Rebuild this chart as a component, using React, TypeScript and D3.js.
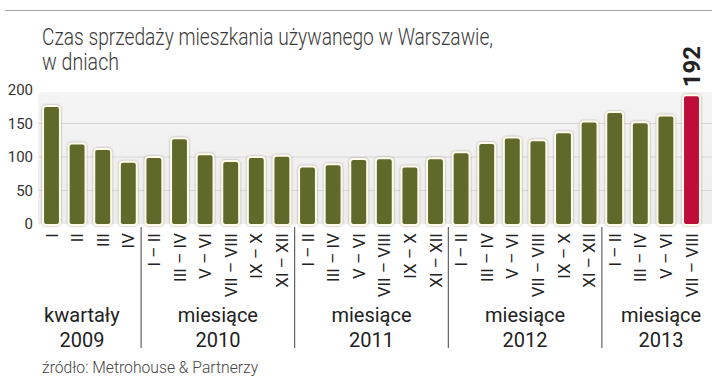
import React from "react";
import * as d3 from "d3";

const labels = [
  "I", "II", "III", "IV",
  "I – II", "III – IV", "V – VI", "VII – VIII", "IX – X", "XI – XII",
  "I – II", "III – IV", "V – VI", "VII – VIII", "IX – X", "XI – XII",
  "I – II", "III – IV", "V – VI", "VII – VIII", "IX – X", "XI – XII",
  "I – II", "III – IV", "V – VI", "VII – VIII",
];
const values = [
  176, 120, 112, 93,
  100, 128, 104, 94, 100, 102,
  86, 89, 97, 98, 86, 98,
  107, 121, 129, 125, 137, 153,
  167, 152, 162, 192,
];
const groupTop = ["kwartały", "miesiące", "miesiące", "miesiące", "miesiące"];
const groupYears = ["2009", "2010", "2011", "2012", "2013"];
const groupSizes = [4, 6, 6, 6, 4];
const yTicks = [0, 50, 100, 150, 200];
const highlightIndex = 25;

const W = 712;
const H = 383;
const FONT = "Roboto, 'Open Sans', sans-serif";

export default function App() {
  const x = d3
    .scaleBand<number>()
    .domain(d3.range(values.length))
    .range([38.7, 704.3])
    .paddingInner(0.34)
    .paddingOuter(0.17);
  const y = d3.scaleLinear().domain([0, 200]).range([224, 90]);
  const step = x.step();
  const bw = x.bandwidth();

  const starts: number[] = [];
  let acc = 0;
  groupSizes.forEach((s) => {
    starts.push(acc);
    acc += s;
  });
  const center = (i: number) => (x(i) as number) + bw / 2;

  return (
    <svg width={W} height={H} style={{ display: "block", position: "absolute", left: 0, top: 0 }}>
      <defs>
        <linearGradient id="panel" x1="0" y1="0" x2="0" y2="1">
          <stop offset="0" stopColor="#f4f4f4" />
          <stop offset="1" stopColor="#ededed" />
        </linearGradient>
        <filter id="sh" x="-30%" y="-10%" width="160%" height="120%">
          <feDropShadow dx="0" dy="0" stdDeviation="1.3" floodColor="#777" floodOpacity="0.7" />
        </filter>
      </defs>
      <rect x={0} y={0} width={W} height={H} fill="#fff" />
      <line x1={5} x2={W} y1={10.5} y2={10.5} stroke="#a0a0a0" strokeWidth={1} />
      <text x={42} y={45} fontFamily={FONT} fontWeight={300} fontSize={23} fill="#3a3a3a" textLength={451} lengthAdjust="spacingAndGlyphs">
        Czas sprzedaży mieszkania używanego w Warszawie,
      </text>
      <text x={42} y={70} fontFamily={FONT} fontWeight={300} fontSize={23} fill="#3a3a3a" textLength={77} lengthAdjust="spacingAndGlyphs">
        w dniach
      </text>

      <path
        d={`M38,${y(0)} V${y(200) + 8} Q38,${y(200) + 2} 44,${y(200) + 2} H${W} V${y(0)} Z`}
        fill="url(#panel)"
      />
      {yTicks.slice(1, 4).map((t) => (
        <line key={t} x1={38} x2={W} y1={y(t)} y2={y(t)} stroke="#d6d6d6" strokeWidth={1} />
      ))}
      {yTicks.map((t) => (
        <text key={t} x={33} y={y(t)} dy="0.35em" textAnchor="end" fontFamily={FONT} fontSize={15} fill="#333">
          {t}
        </text>
      ))}

      {values.map((v, i) => (
        <rect
          key={i}
          x={x(i)}
          y={y(v)}
          width={bw}
          height={y(0) - y(v) + 1}
          rx={3}
          fill={i === highlightIndex ? "#bf0a3a" : "#5e6b2c"}
          stroke="#fffbea"
          strokeWidth={2}
          filter="url(#sh)"
        />
      ))}

      <text
        transform={`translate(${center(highlightIndex) + 8},${y(values[highlightIndex]) - 8}) rotate(-90)`}
        textAnchor="start"
        fontFamily={FONT}
        fontWeight={700}
        fontSize={24}
        fill="#222"
      >
        {values[highlightIndex]}
      </text>

      {labels.map((l, i) => (
        <text
          key={i}
          transform={`translate(${center(i) + 6},233) rotate(-90)`}
          textAnchor="end"
          fontFamily={FONT}
          fontSize={17}
          fill="#222"
        >
          {l}
        </text>
      ))}

      {starts.slice(1).map((s, k) => (
        <line key={k} x1={(x(s) as number) - (step - bw) / 2} x2={(x(s) as number) - (step - bw) / 2} y1={227} y2={348} stroke="#444" strokeWidth={1} />
      ))}

      {groupSizes.map((s, k) => {
        const a = center(starts[k]);
        const b = center(starts[k] + s - 1);
        let cx = (a + b) / 2;
        if (k === 0) cx -= 8;
        if (k === groupSizes.length - 1) cx += 8;
        return (
          <g key={k}>
            <text x={cx} y={322} textAnchor="middle" fontFamily={FONT} fontSize={20} fill="#222">
              {groupTop[k]}
            </text>
            <text x={cx} y={347} textAnchor="middle" fontFamily={FONT} fontSize={20} fill="#222">
              {groupYears[k]}
            </text>
          </g>
        );
      })}

      <text x={42} y={373} fontFamily={FONT} fontWeight={300} fontSize={15.7} fill="#444">
        źródło: Metrohouse &amp; Partnerzy
      </text>
    </svg>
  );
}
